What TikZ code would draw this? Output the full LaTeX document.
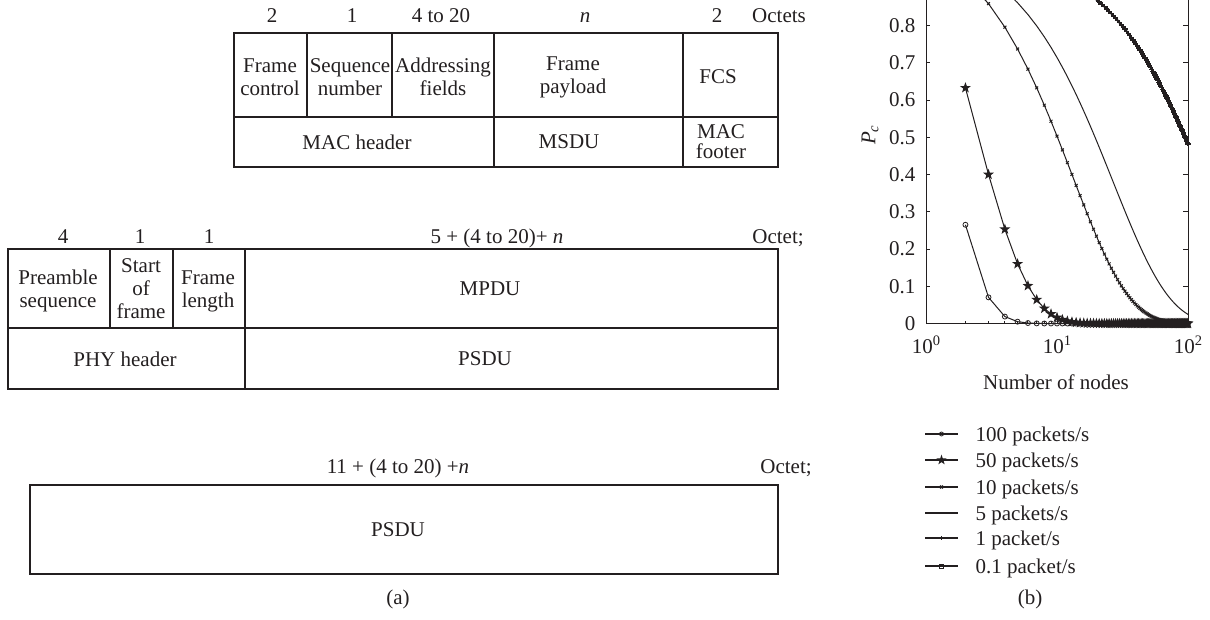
\documentclass[tikz,border=0pt]{standalone}
\usepackage{fontspec}
\setmainfont{Liberation Serif}
\usetikzlibrary{plotmarks}
\definecolor{ink}{HTML}{231F20}

% filled five-point star for the 50 packets/s curve
\pgfdeclareplotmark{pent}{%
  \pgfpathmoveto{\pgfpointpolar{90}{\pgfplotmarksize}}%
  \pgfpathlineto{\pgfpointscale{0.4}{\pgfpointpolar{126}{\pgfplotmarksize}}}%
  \pgfpathlineto{\pgfpointpolar{162}{\pgfplotmarksize}}%
  \pgfpathlineto{\pgfpointscale{0.4}{\pgfpointpolar{198}{\pgfplotmarksize}}}%
  \pgfpathlineto{\pgfpointpolar{234}{\pgfplotmarksize}}%
  \pgfpathlineto{\pgfpointscale{0.4}{\pgfpointpolar{270}{\pgfplotmarksize}}}%
  \pgfpathlineto{\pgfpointpolar{306}{\pgfplotmarksize}}%
  \pgfpathlineto{\pgfpointscale{0.4}{\pgfpointpolar{342}{\pgfplotmarksize}}}%
  \pgfpathlineto{\pgfpointpolar{18}{\pgfplotmarksize}}%
  \pgfpathlineto{\pgfpointscale{0.4}{\pgfpointpolar{54}{\pgfplotmarksize}}}%
  \pgfpathclose
  \pgfusepathqfillstroke}

\newcommand{\tenpow}[1]{10\raisebox{0.8ex}{\fontsize{14.5}{14.5}\selectfont #1}}

\begin{document}
\begin{tikzpicture}[x=1pt,y=-1pt,font=\fontsize{21}{23}\selectfont,text=ink,
  frm/.style={draw=ink,line width=1.4pt},
  cell/.style={align=center,inner sep=0pt},
  axis/.style={draw=ink,line width=1pt},
  curve/.style={draw=ink,line width=1pt,mark options={solid,line width=0.8pt}}]

  \useasboundingbox (0,0) rectangle (1210,619);
  \clip (0,0) rectangle (1210,619);

  % (a) MAC frame
  \draw[frm] (234,33) rectangle (778,167);
  \draw[frm] (234,117) -- (778,117);
  \draw[frm] (307,33) -- (307,117);
  \draw[frm] (392,33) -- (392,117);
  \draw[frm] (494,33) -- (494,167);
  \draw[frm] (683,33) -- (683,167);

  \node[anchor=base] (m1) at (272,22) {2};
  \node[anchor=base] (m2) at (352,22) {1};
  \node[anchor=base] (m3) at (441,22) {4 to 20};
  \node[anchor=base] (m4) at (585,22) {\textit{n}};
  \node[anchor=base] (m5) at (717,22) {2};
  \node[anchor=base] (m6) at (779,22) {Octets};

  \node[cell] (fc) at (270,77) {Frame\\control};
  \node[cell] (sn) at (350,77) {Sequence\\number};
  \node[cell] (af) at (443,77) {Addressing\\fields};
  \node[cell] (fp) at (573,77) {Frame\\payload};
  \node[cell] (fcs) at (718,77) {FCS};
  \node[cell] (mh) at (357,142) {MAC header};
  \node[cell] (msdu) at (569,142) {MSDU};
  \node[cell,font=\fontsize{21}{20}\selectfont] (mf) at (721,142) {MAC\\footer};

  % PHY frame
  \draw[frm] (8,249) rectangle (778,389);
  \draw[frm] (8,328) -- (778,328);
  \draw[frm] (110,249) -- (110,328);
  \draw[frm] (173,249) -- (173,328);
  \draw[frm] (245,249) -- (245,389);

  \node[anchor=base] (p1) at (63,243) {4};
  \node[anchor=base] (p2) at (140,243) {1};
  \node[anchor=base] (p3) at (209,243) {1};
  \node[anchor=base] (p4) at (497,243) {5 + (4 to 20)+ \textit{n}};
  \node[anchor=base] (p5) at (778,243) {Octet;};

  \node[cell] (ps) at (58,291) {Preamble\\sequence};
  \node[cell] (sf) at (141,289) {Start\\of\\frame};
  \node[cell] (fl) at (208,291) {Frame\\length};
  \node[cell] (mpdu) at (490,289) {MPDU};
  \node[cell] (phy) at (125,359) {PHY header};
  \node[cell] (psdu) at (485,359) {PSDU};

  % PPDU
  \draw[frm] (30,485) rectangle (778,574);
  \node[anchor=base] (q1) at (398,473) {11 + (4 to 20) +\textit{n}};
  \node[anchor=base] (q2) at (786,473) {Octet;};
  \node[cell] (psdu2) at (398,530) {PSDU};

  \node (capa) at (398,599) {(a)};

  % (b) plot
  \draw[axis] (926,-60) rectangle (1188,323.5);
  \foreach \k in {0,...,9}
    \draw[axis] (926,323.5-37.25*\k) -- ++(4,0) (1188,323.5-37.25*\k) -- ++(-5,0);
  \foreach \m in {2,...,9,20,30,...,90}
    \draw[axis] ({926+131*log10(\m)},323.5) -- ++(0,-3);
  \foreach \m in {926,1057,1188}
    \draw[axis] (\m,323.5) -- ++(0,-5);

  \foreach \v [count=\k] in {0,0.1,0.2,0.3,0.4,0.5,0.6,0.7,0.8}
    \node[anchor=east] (yl\k) at (919,323.5-372.5*\v) {\v};
  \node[anchor=base] (xl0) at (926,353) {\tenpow{0}};
  \node[anchor=base] (xl1) at (1057,353) {\tenpow{1}};
  \node[anchor=base] (xl2) at (1188,353) {\tenpow{2}};
  \node[anchor=base] (xlab) at (1056,389) {Number of nodes};
  \node[rotate=90] (ylab) at (870,135) {\textit{P}\textsubscript{\textit{c}}};

  \draw[curve,mark=o,mark size=2.5] plot[samples at={2,...,100}]
    ({926+131*log10(\x)},{323.5-372.5*exp(max(-12,(\x-1)*(-1.328)))});
  \draw[curve,mark=pent,mark size=4.2,mark options={fill=ink}] plot[samples at={2,...,100}]
    ({926+131*log10(\x)},{323.5-372.5*exp(max(-12,(\x-1)*(-0.4581)))});
  \draw[curve,mark=x,mark size=2,mark options={line width=1pt}] plot[samples at={2,...,100}]
    ({926+131*log10(\x)},{323.5-372.5*exp(max(-12,(\x-1)*(-0.07634)))});
  \draw[curve] plot[samples at={2,...,100}]
    ({926+131*log10(\x)},{323.5-372.5*exp(max(-12,(\x-1)*(-0.03744)))});
  \draw[curve,line width=2pt,mark=+,mark size=2.6,mark options={line width=1.6pt}] plot[samples at={2,...,100}]
    ({926+131*log10(\x)},{323.5-372.5*exp(max(-12,(\x-1)*(-0.007377)))});
  \draw[curve,mark=square,mark size=2] plot[samples at={2,...,100}]
    ({926+131*log10(\x)},{323.5-372.5*exp(max(-12,(\x-1)*(-0.000735)))});

  % legend
  \draw[curve,line width=1.2pt,mark=o,mark size=2,mark indices={2}] plot coordinates {(925,434) (941.5,434) (958,434)};
  \draw[curve,line width=1.2pt,mark=pent,mark size=3.5,mark options={fill=ink},mark indices={2}] plot coordinates {(925,460) (941.5,460) (958,460)};
  \draw[curve,line width=1.2pt,mark=x,mark size=2,mark options={line width=1.2pt},mark indices={2}] plot coordinates {(925,487) (941.5,487) (958,487)};
  \draw[curve,line width=1.2pt] (925,513) -- (958,513);
  \draw[curve,line width=1.2pt,mark=+,mark size=2,mark options={line width=1pt},mark indices={2}] plot coordinates {(925,538) (941.5,538) (958,538)};
  \draw[curve,line width=1.2pt,mark=square,mark size=2,mark indices={2}] plot coordinates {(925,566) (941.5,566) (958,566)};

  \node[anchor=base west] (lg1) at (972,441) {100 packets/s};
  \node[anchor=base west] (lg2) at (972,467) {50 packets/s};
  \node[anchor=base west] (lg3) at (972,494) {10 packets/s};
  \node[anchor=base west] (lg4) at (972,520) {5 packets/s};
  \node[anchor=base west] (lg5) at (972,545) {1 packet/s};
  \node[anchor=base west] (lg6) at (972,573) {0.1 packet/s};

  \node (capb) at (1030,599) {(b)};

\end{tikzpicture}
\end{document}
